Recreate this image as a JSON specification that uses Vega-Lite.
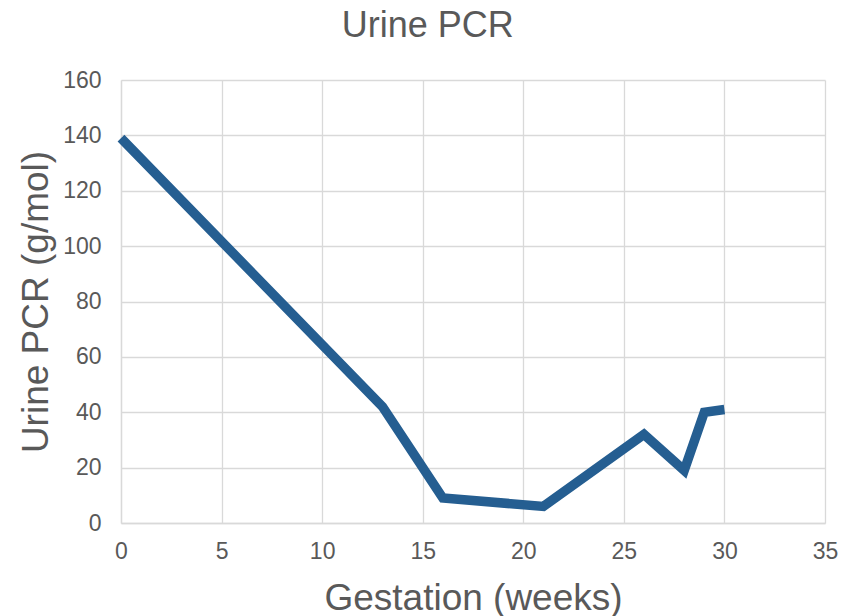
{
  "$schema": "https://vega.github.io/schema/vega-lite/v6.json",
  "width": 704,
  "height": 443,
  "autosize": {"type": "none"},
  "padding": {"left": 121, "top": 80, "right": 31, "bottom": 93},
  "background": "white",
  "title": {
    "text": "Urine PCR",
    "font": "Liberation Sans",
    "fontSize": 36,
    "fontWeight": "normal",
    "color": "#595959",
    "anchor": "middle",
    "frame": "bounds",
    "offset": 24
  },
  "config": {
    "view": {"stroke": null},
    "axis": {
      "labelFont": "Liberation Sans",
      "labelFontSize": 23,
      "labelColor": "#595959",
      "labelFlush": false,
      "titleFont": "Liberation Sans",
      "titleFontWeight": "normal",
      "titleColor": "#595959",
      "titleFontSize": 37,
      "gridColor": "#d9d9d9",
      "gridWidth": 1.3,
      "domainColor": "#d9d9d9",
      "domainWidth": 1.3,
      "ticks": false
    }
  },
  "data": {
    "values": [
      {"week": 0, "pcr": 139},
      {"week": 13, "pcr": 42},
      {"week": 16, "pcr": 9},
      {"week": 21, "pcr": 6},
      {"week": 26, "pcr": 32},
      {"week": 28, "pcr": 19},
      {"week": 29, "pcr": 40},
      {"week": 30, "pcr": 41}
    ]
  },
  "mark": {"type": "line", "color": "#255E91", "strokeWidth": 9.5, "strokeJoin": "miter", "strokeCap": "butt"},
  "encoding": {
    "x": {
      "field": "week",
      "type": "quantitative",
      "scale": {"domain": [0, 35], "nice": false},
      "axis": {"values": [0, 5, 10, 15, 20, 25, 30, 35], "title": "Gestation (weeks)", "labelPadding": 17, "titlePadding": 17}
    },
    "y": {
      "field": "pcr",
      "type": "quantitative",
      "scale": {"domain": [0, 160], "nice": false},
      "axis": {"values": [0, 20, 40, 60, 80, 100, 120, 140, 160], "title": "Urine PCR (g/mol)", "labelPadding": 20, "titlePadding": 7, "domain": true}
    }
  }
}
